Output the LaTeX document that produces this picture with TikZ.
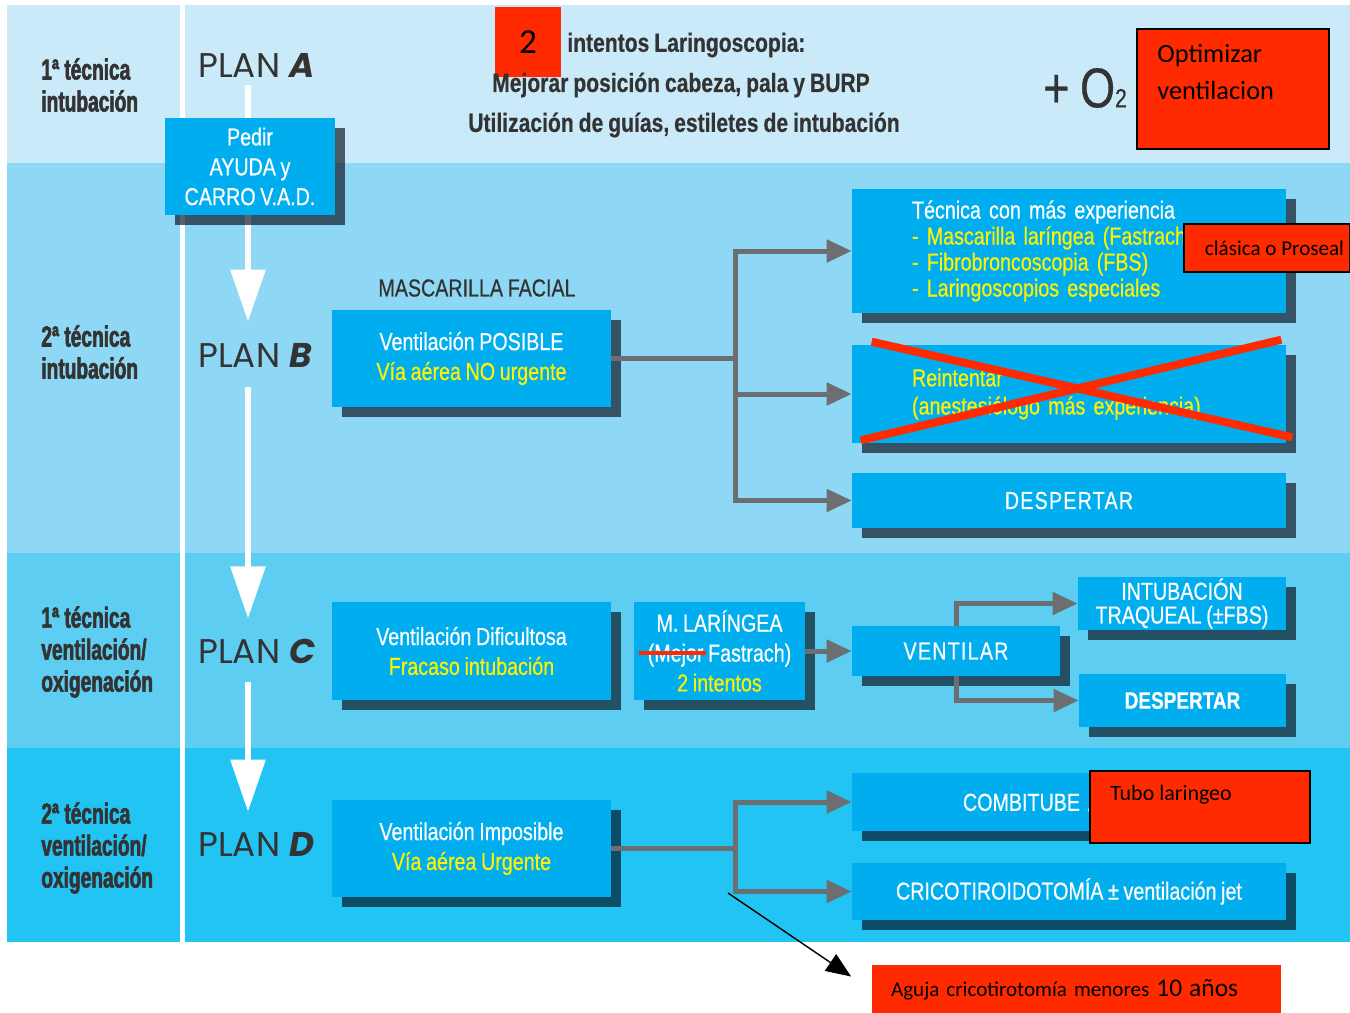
\documentclass[tikz,border=0pt]{standalone}
\usepackage{fontspec}
\usepackage{xcolor}
\usetikzlibrary{positioning,arrows.meta,shadows}
\newfontfamily\condfont[FakeStretch=0.8,FakeBold=0.5,WordSpace=0.85]{Liberation Sans}
\newfontfamily\spacedfont[FakeStretch=0.8,FakeBold=0.5,LetterSpace=5]{Liberation Sans}
\newfontfamily\labelfont[FakeStretch=0.66,FakeBold=2]{Liberation Sans}
\newfontfamily\planfont{Poppins}
\newfontfamily\notefont{Carlito}
\definecolor{colorbandA}  {RGB}{203,234,249}
\definecolor{colorbandB}  {RGB}{142,216,245}
\definecolor{colorbandC}  {RGB}{93 ,205,242}
\definecolor{colorbandD}  {RGB}{34 ,196,243}
\definecolor{colorbox}    {RGB}{0  ,174,239}
\definecolor{colorshadow} {RGB}{6  ,13 ,25 }
\definecolor{colorflow}   {RGB}{109,110,113}
\definecolor{colornote}   {RGB}{255,42 ,0  }
\definecolor{colortext}   {RGB}{51 ,51 ,51 }
\definecolor{colorhigh}   {RGB}{255,242,0  }
\newcommand\boxtext{\condfont\fontsize{14}{17}\selectfont}

\begin{document}
\begin{tikzpicture}[
    x=0.02cm, y=-0.02cm,
    box/.style={fill=colorbox,text=white,font=\boxtext,align=center,inner sep=0pt,
        general shadow={fill=colorshadow,fill opacity=0.65,shadow xshift=0.2cm,shadow yshift=-0.2cm}},
    wide/.style={box,minimum width=8.68cm},
    level/.style={text=colortext,font={\labelfont\bfseries\fontsize{16.5}{18.2}\selectfont},
        align=left,anchor=west,inner sep=0pt},
    plan/.style={text=colortext,font={\planfont\fontsize{19.5}{20}\selectfont},anchor=west,inner sep=0pt},
    head/.style={text=colortext,font={\condfont\bfseries\fontsize{15}{15}\selectfont},inner sep=0pt},
    note/.style={fill=colornote,draw=black,line width=1.2pt,inner sep=0pt,
        font={\notefont\fontsize{12}{14}\selectfont},text=black},
    down/.style={draw=white,line width=0.12cm,-{Triangle[length=1.04cm,width=0.68cm]}},
    flow/.style={draw=colorflow,line width=0.1cm,-{Triangle[length=0.5cm,width=0.44cm]}},
    cross/.style={draw=colornote,line width=0.16cm},
]

    \useasboundingbox (0,0) rectangle (1350,1012);
    \fill[colorbandA] (7,5) rectangle (1350,163);
    \fill[colorbandB] (7,163) rectangle (1350,553);
    \fill[colorbandC] (7,553) rectangle (1350,748);
    \fill[colorbandD] (7,748) rectangle (1350,942);
    \fill[white] (180,5) rectangle (185,942);

    % levels
    \node[level] (nivelA) at (41,85) {1ª técnica\\intubación};
    \node[level] (nivelB) at (41,352) {2ª técnica\\intubación};
    \node[level] (nivelC) at (41,652) {1ª técnica\\ventilación/\\oxigenación};
    \node[level] (nivelD) at (41,848) {2ª técnica\\ventilación/\\oxigenación};

    \node[plan] (planA) at (198,65) {PLAN \textbf{\textit{A}}};
    \node[plan] (planB) at (198,355) {PLAN \textbf{\textit{B}}};
    \node[plan] (planC) at (198,651) {PLAN \textbf{\textit{C}}};
    \node[plan] (planD) at (198,844) {PLAN \textbf{\textit{D}}};

    \draw[down,shorten <=0.16cm,shorten >=0.42cm] (planA.south -| 248,0) -- (planB.north -| 248,0);
    \draw[down,shorten <=0.4cm,shorten >=0.4cm] (planB.south -| 248,0) -- (planC.north -| 248,0);
    \draw[down,shorten <=0.36cm,shorten >=0.4cm] (planC.south -| 248,0) -- (planD.north -| 248,0);

    \node[box,minimum width=3.4cm,minimum height=1.94cm] (pedir) at (250,166.5)
        {Pedir\\AYUDA y\\CARRO V.A.D.};

    % plan A
    \node[note,draw=none,minimum width=1.32cm,minimum height=1.4cm,
        font={\notefont\fontsize{20}{20}\selectfont}] (dos) at (528,42) {2};
    \node[head,anchor=west] (intentos) at (567,45) {intentos Laringoscopia:};
    \node[head] (mejorar) at (681,85) {Mejorar posición cabeza, pala y BURP};
    \node[head] (guias) at (684,125) {Utilización de guías, estiletes de intubación};
    \node[text=colortext,font={\condfont\fontsize{32}{32}\selectfont},inner sep=0pt] (oxigeno) at (1085,88)
        {+ O{\fontsize{15}{15}\selectfont 2}};
    \node[note,minimum width=3.84cm,minimum height=2.4cm] (optimizar) at (1233,89) {};
    \node[font={\notefont\fontsize{15}{21}\selectfont},align=left,anchor=north west,inner sep=0pt]
        (optimizartexto) at (1157,44) {Optimizar\\ventilacion};

    % plan B
    \node[text=colortext,font={\condfont\fontsize{14}{14}\selectfont}] (mascarilla) at (477,288) {MASCARILLA FACIAL};
    \node[box,minimum width=5.58cm,minimum height=1.94cm] (posible) at (471.5,358.5)
        {Ventilación POSIBLE\\\textcolor{colorhigh}{Vía aérea NO urgente}};
    \node[wide,minimum height=2.48cm,text width=6.28cm,inner xsep=1.2cm,align=left,
        font={\condfont\fontsize{14}{14.8}\selectfont}] (tecnica) at (1069,251)
        {Técnica con más experiencia\\
        \textcolor{colorhigh}{- Mascarilla laríngea (Fastrach)}\\
        \textcolor{colorhigh}{- Fibrobroncoscopia (FBS)}\\
        \textcolor{colorhigh}{- Laringoscopios especiales}};
    \node[note,minimum width=3.32cm,minimum height=0.96cm] (proseal) at (1267,248) {\hspace{0.3cm}clásica o Proseal};
    \node[wide,minimum height=1.96cm,text width=6.28cm,inner xsep=1.2cm,align=left,
        font={\condfont\fontsize{14}{16}\selectfont},text=colorhigh] (reintentar) at (1069,394)
        {Reintentar\\(anestesiólogo más experiencia)};
    \draw[cross] ([xshift=0.4cm,yshift=0.06cm]reintentar.north west) -- ([xshift=0.12cm,yshift=0.12cm]reintentar.south east);
    \draw[cross] ([xshift=0.18cm,yshift=0.06cm]reintentar.south west) -- ([xshift=-0.1cm,yshift=0.1cm]reintentar.north east);
    \node[wide,minimum height=1.1cm,font={\spacedfont\fontsize{14}{14}\selectfont}] (despertarB) at (1069,500.5) {DESPERTAR};

    \coordinate (splitB) at (735,358.5);
    \draw[colorflow,line width=0.1cm] (posible.east) -- (splitB);
    \draw[flow] (splitB) |- (tecnica.west);
    \draw[flow] (splitB) |- (reintentar.west);
    \draw[flow] (splitB) |- (despertarB.west);

    % plan C
    \node[box,minimum width=5.58cm,minimum height=1.96cm] (dificultosa) at (471.5,651)
        {Ventilación Dificultosa\\\textcolor{colorhigh}{Fracaso intubación}};
    \node[box,minimum width=3.42cm,minimum height=1.96cm,font={\condfont\fontsize{14}{17}\selectfont}] (laringea) at (719.5,651)
        {M. LARÍNGEA\\(Mejor Fastrach)\\\textcolor{colorhigh}{2 intentos}};
    \draw[colornote,line width=0.09cm] ([shift={(-80.5,2)}]laringea.center) -- ([shift={(-13.5,2)}]laringea.center);
    \node[box,minimum width=4.16cm,minimum height=1.0cm,font={\spacedfont\fontsize{14}{14}\selectfont}] (ventilar) at (956,651) {VENTILAR};
    \node[box,minimum width=4.16cm,minimum height=1.06cm,font={\condfont\fontsize{14}{13.5}\selectfont}] (intubacion) at (1182,603.5)
        {INTUBACIÓN\\TRAQUEAL (±FBS)};
    \node[box,minimum width=4.14cm,minimum height=1.06cm,font={\condfont\bfseries\fontsize{13.5}{14}\selectfont}] (despertarC) at (1182.5,700.5) {DESPERTAR};

    \draw[flow] (laringea.east) -- (ventilar.west);
    \draw[flow] (ventilar.north) |- (intubacion.west);
    \draw[flow] (ventilar.south) |- (despertarC.west);

    % plan D
    \node[box,minimum width=5.58cm,minimum height=1.94cm] (imposible) at (471.5,848.5)
        {Ventilación Imposible\\\textcolor{colorhigh}{Vía aérea Urgente}};
    \node[wide,minimum height=1.16cm,text width=4.24cm,inner xsep=2.22cm,align=left] (combitube) at (1069,802) {COMBITUBE /};
    \node[wide,minimum height=1.14cm] (crico) at (1069,891.5) {CRICOTIROIDOTOMÍA ± ventilación jet};
    \node[note,minimum width=4.4cm,minimum height=1.44cm] (tubo) at (1200,807) {};
    \node[font={\notefont\fontsize{12.5}{14}\selectfont},anchor=north west,inner sep=0pt] (tubotexto) at (1110,785) {Tubo laringeo};

    \coordinate (splitD) at (735,848.5);
    \draw[colorflow,line width=0.1cm] (imposible.east) -- (splitD);
    \draw[flow] (splitD) |- (combitube.west);
    \draw[flow] (splitD) |- (crico.west);

    \node[note,draw=none,minimum width=8.18cm,minimum height=1.0cm,text width=7.42cm,inner xsep=0.38cm,
        align=left,font={\notefont\fontsize{12}{14}\selectfont}] (aguja) at (1076.5,990)
        {Aguja cricotirotomía menores {\fontsize{14.5}{15}\selectfont 10 años}};
    \coordinate (agujainicio) at (728,893);
    \draw[black,line width=0.8pt,-{Triangle[length=0.5cm,width=0.4cm]},shorten >=0.48cm] (agujainicio) -- (aguja.west);

\end{tikzpicture}
\end{document}
